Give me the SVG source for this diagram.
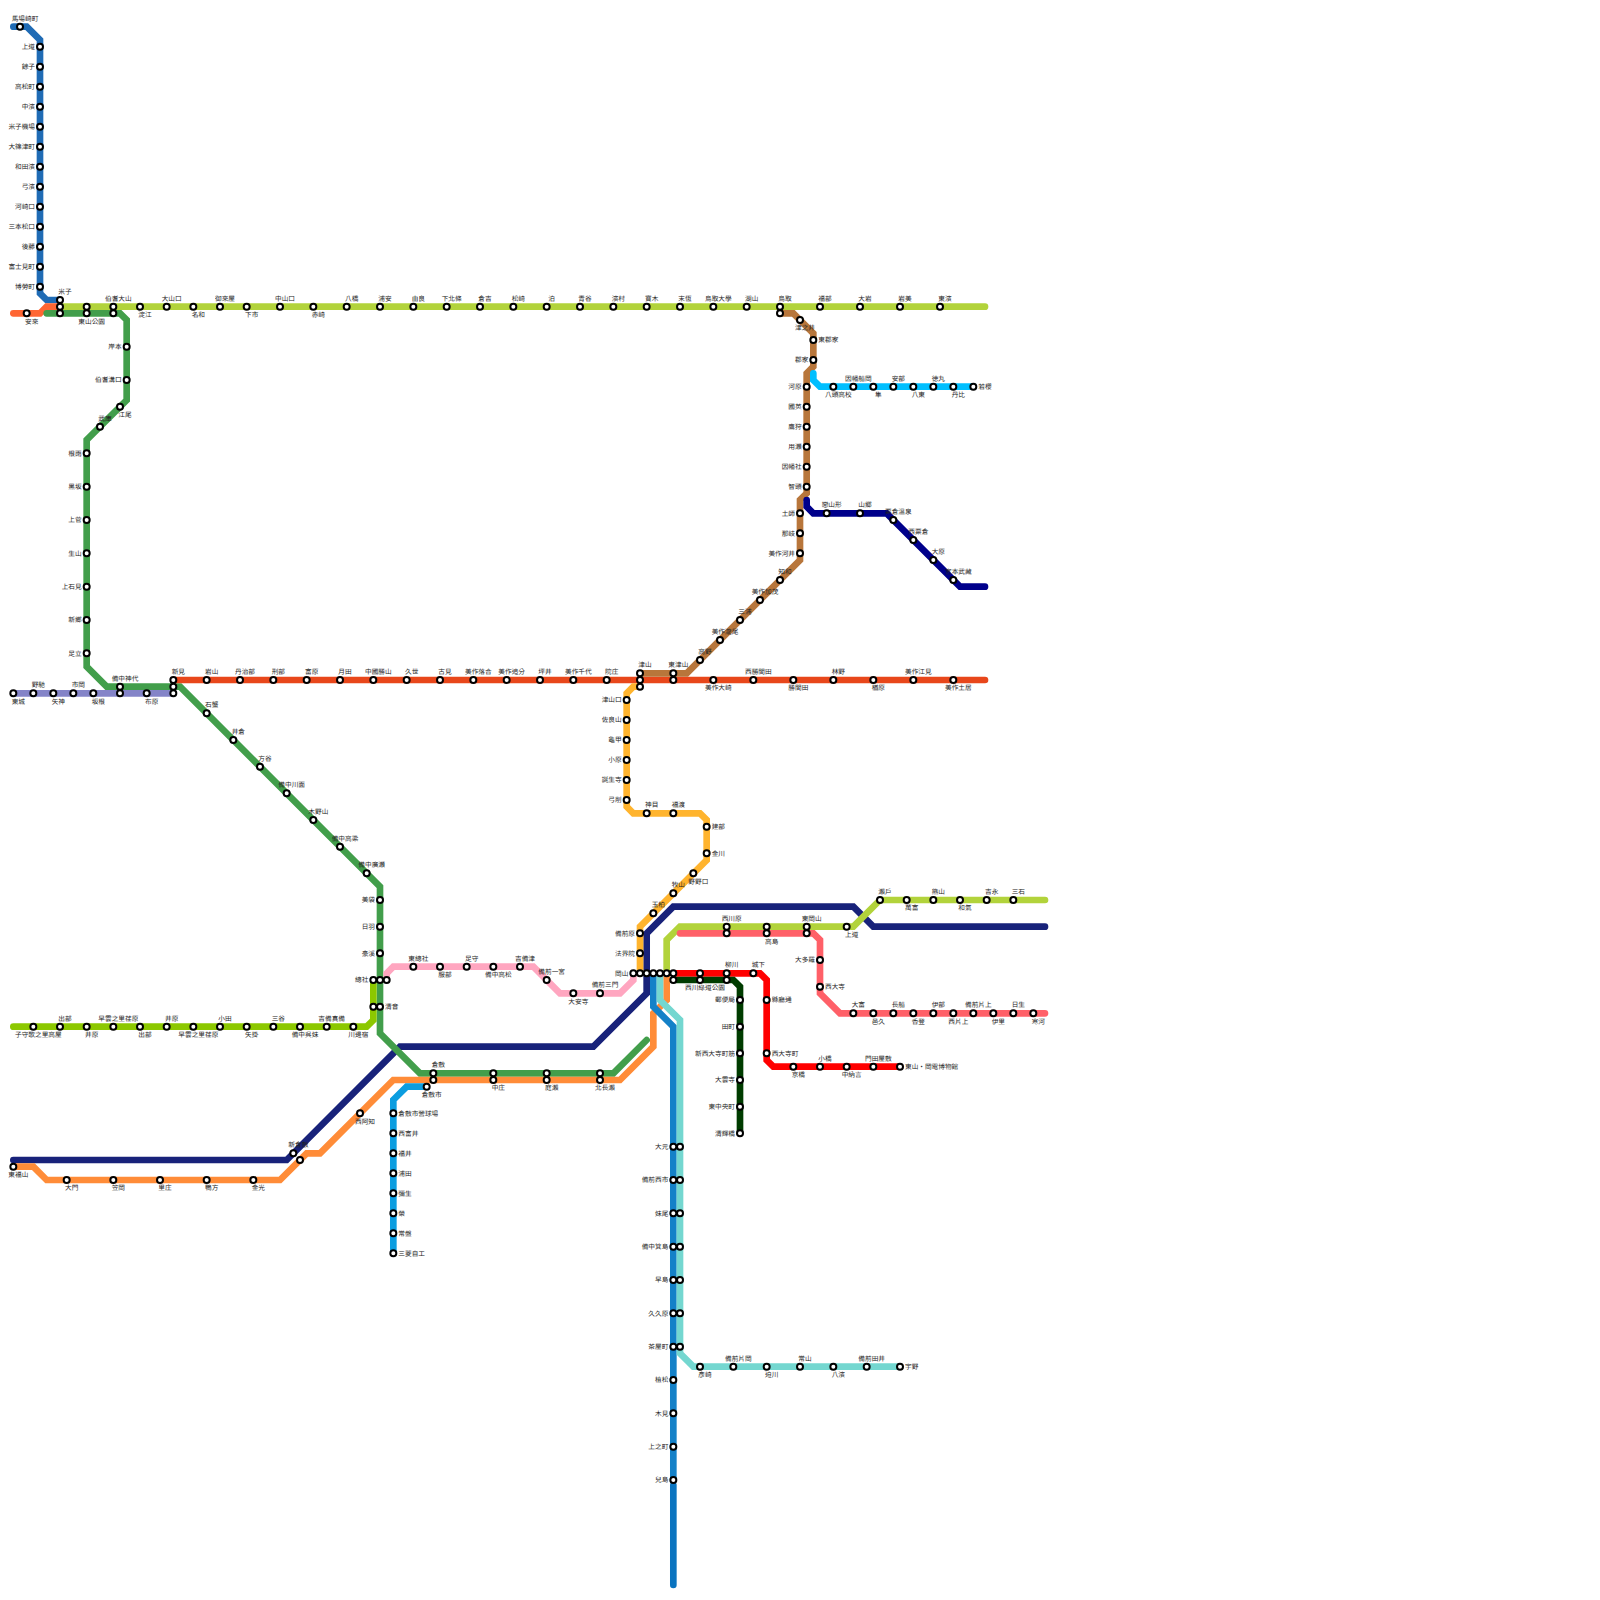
<svg xmlns="http://www.w3.org/2000/svg" width="1600" height="1600" viewBox="0 0 1600 1600">
<style>
.ln{fill:none;stroke-width:6.67;stroke-linecap:round;stroke-linejoin:miter}
circle{fill:#fff;stroke:#000;stroke-width:2}
text{font-family:"Noto Sans CJK TC","Noto Sans CJK JP",sans-serif;font-size:6.67px;fill:#222;text-rendering:geometricPrecision;opacity:.99}
.t,.b{text-anchor:middle}.l{text-anchor:end}.r{text-anchor:start}
</style>
<rect width="1600" height="1600" fill="#fff"/>
<g id="connectors">
<path class="ln" stroke="#18227a" d="M13.33 1160H286.67L400 1046.67H593.33L646.67 993.33V933.33L673.33 906.67H853.33L873.33 926.67H1045"/>
<path class="ln" stroke="#1f6bb5" d="M13.33 26.67H26.67L40 40V293.33L46.67 300H60"/>
<path class="ln" stroke="#ff6633" d="M13.33 313.33H40L46.67 306.67H60"/>
<path class="ln" stroke="#b2d33b" d="M60 306.67H985"/>
<path class="ln" stroke="#8484c8" d="M13.33 693.33H173.33"/>
<path class="ln" stroke="#429e4b" d="M46.67 313.33H120L126.67 320V400L86.67 440V666.67L106.67 686.67H180L380 886.67V1033.33L420 1073.33H613.33L646.67 1040"/>
<path class="ln" stroke="#8cc800" d="M13.33 1026.67H366.67L373.33 1020V980"/>
<path class="ln" stroke="#e8471b" d="M173.33 680H985"/>
<path class="ln" stroke="#b8763b" d="M640 673.33H686.67L800 560V500L806.67 493.33V373.33L813.33 366.67V333.33L793.33 313.33H780"/>
<path class="ln" stroke="#00bfff" d="M813.33 373.33V380L820 386.67H973.33"/>
<path class="ln" stroke="#00008b" d="M806.67 500V506.67L813.33 513.33H886.67L960 586.67H985"/>
<path class="ln" stroke="#ffb42e" d="M640 686.67H633.33L626.67 693.33V806.67L633.33 813.33H700L706.67 820V860L640 926.67V973.33"/>
<path class="ln" stroke="#ff8c38" d="M13.33 1166.67H33.33L46.67 1180H280L306.67 1153.33H320L393.33 1080H620L653.33 1046.67V1013.33L666.67 1000V973.33"/>
<path class="ln" stroke="#0b9de0" d="M426.67 1086.67H406.67L393.33 1100V1253.33"/>
<path class="ln" stroke="#ffa6c0" d="M386.67 980V973.33L393.33 966.67H533.33L560 993.33H620L633.33 980V973.33"/>
<path class="ln" stroke="#1481c8" d="M653.33 973.33V1006.67L673.33 1026.67V1480"/>
<path class="ln" stroke="#0a74c0" d="M673.33 1485V1585"/>
<path class="ln" stroke="#74d7d0" d="M660 973.33V1000L680 1020V1353.33L693.33 1366.67H900"/>
<path class="ln" stroke="#b2d33b" d="M666.67 973.33V940L680 926.67H853.33L880 900H1045"/>
<path class="ln" stroke="#ff6068" d="M680 933.33H813.33L820 940V993.33L840 1013.33H1045"/>
<path class="ln" stroke="#ff0000" d="M673.33 973.33H760L766.67 980V1060L773.33 1066.67H900"/>
<path class="ln" stroke="#003c00" d="M673.33 980H733.33L740 986.67V1133.33"/>
</g>
<g id="nodes">
<g id="n1" transform="translate(20 26.67)"><circle r="3"/><text class="t" x="5" y="-6">馬場崎町</text></g>
<g id="n2" transform="translate(40 46.67)"><circle r="3"/><text class="l" x="-5" y="2.4">上道</text></g>
<g id="n3" transform="translate(40 66.67)"><circle r="3"/><text class="l" x="-5" y="2.4">餘子</text></g>
<g id="n4" transform="translate(40 86.67)"><circle r="3"/><text class="l" x="-5" y="2.4">高松町</text></g>
<g id="n5" transform="translate(40 106.67)"><circle r="3"/><text class="l" x="-5" y="2.4">中濱</text></g>
<g id="n6" transform="translate(40 126.67)"><circle r="3"/><text class="l" x="-5" y="2.4">米子機場</text></g>
<g id="n7" transform="translate(40 146.67)"><circle r="3"/><text class="l" x="-5" y="2.4">大篠津町</text></g>
<g id="n8" transform="translate(40 166.67)"><circle r="3"/><text class="l" x="-5" y="2.4">和田濱</text></g>
<g id="n9" transform="translate(40 186.67)"><circle r="3"/><text class="l" x="-5" y="2.4">弓濱</text></g>
<g id="n10" transform="translate(40 206.67)"><circle r="3"/><text class="l" x="-5" y="2.4">河崎口</text></g>
<g id="n11" transform="translate(40 226.67)"><circle r="3"/><text class="l" x="-5" y="2.4">三本松口</text></g>
<g id="n12" transform="translate(40 246.67)"><circle r="3"/><text class="l" x="-5" y="2.4">後藤</text></g>
<g id="n13" transform="translate(40 266.67)"><circle r="3"/><text class="l" x="-5" y="2.4">富士見町</text></g>
<g id="n14" transform="translate(40 286.67)"><circle r="3"/><text class="l" x="-5" y="2.4">博勞町</text></g>
<g id="n15" transform="translate(60 300)"><circle r="3"/><text class="t" x="5" y="-6">米子</text></g>
<g id="n16" transform="translate(60 306.67)"><circle r="3"/></g>
<g id="n17" transform="translate(60 313.33)"><circle r="3"/></g>
<g id="n18" transform="translate(26.67 313.33)"><circle r="3"/><text class="b" x="5" y="10.4">安來</text></g>
<g id="n19" transform="translate(86.67 306.67)"><circle r="3"/></g>
<g id="n20" transform="translate(86.67 313.33)"><circle r="3"/><text class="b" x="5" y="10.4">東山公園</text></g>
<g id="n21" transform="translate(113.33 306.67)"><circle r="3"/><text class="t" x="5" y="-6">伯耆大山</text></g>
<g id="n22" transform="translate(113.33 313.33)"><circle r="3"/></g>
<g id="n23" transform="translate(140 306.67)"><circle r="3"/><text class="b" x="5" y="10.4">淀江</text></g>
<g id="n24" transform="translate(166.67 306.67)"><circle r="3"/><text class="t" x="5" y="-6">大山口</text></g>
<g id="n25" transform="translate(193.33 306.67)"><circle r="3"/><text class="b" x="5" y="10.4">名和</text></g>
<g id="n26" transform="translate(220 306.67)"><circle r="3"/><text class="t" x="5" y="-6">御來屋</text></g>
<g id="n27" transform="translate(246.67 306.67)"><circle r="3"/><text class="b" x="5" y="10.4">下市</text></g>
<g id="n28" transform="translate(280 306.67)"><circle r="3"/><text class="t" x="5" y="-6">中山口</text></g>
<g id="n29" transform="translate(313.33 306.67)"><circle r="3"/><text class="b" x="5" y="10.4">赤崎</text></g>
<g id="n30" transform="translate(346.67 306.67)"><circle r="3"/><text class="t" x="5" y="-6">八橋</text></g>
<g id="n31" transform="translate(380 306.67)"><circle r="3"/><text class="t" x="5" y="-6">浦安</text></g>
<g id="n32" transform="translate(413.33 306.67)"><circle r="3"/><text class="t" x="5" y="-6">由良</text></g>
<g id="n33" transform="translate(446.67 306.67)"><circle r="3"/><text class="t" x="5" y="-6">下北條</text></g>
<g id="n34" transform="translate(480 306.67)"><circle r="3"/><text class="t" x="5" y="-6">倉吉</text></g>
<g id="n35" transform="translate(513.33 306.67)"><circle r="3"/><text class="t" x="5" y="-6">松崎</text></g>
<g id="n36" transform="translate(546.67 306.67)"><circle r="3"/><text class="t" x="5" y="-6">泊</text></g>
<g id="n37" transform="translate(580 306.67)"><circle r="3"/><text class="t" x="5" y="-6">青谷</text></g>
<g id="n38" transform="translate(613.33 306.67)"><circle r="3"/><text class="t" x="5" y="-6">濱村</text></g>
<g id="n39" transform="translate(646.67 306.67)"><circle r="3"/><text class="t" x="5" y="-6">寶木</text></g>
<g id="n40" transform="translate(680 306.67)"><circle r="3"/><text class="t" x="5" y="-6">末恆</text></g>
<g id="n41" transform="translate(713.33 306.67)"><circle r="3"/><text class="t" x="5" y="-6">鳥取大學</text></g>
<g id="n42" transform="translate(746.67 306.67)"><circle r="3"/><text class="t" x="5" y="-6">湖山</text></g>
<g id="n43" transform="translate(780 306.67)"><circle r="3"/><text class="t" x="5" y="-6">鳥取</text></g>
<g id="n44" transform="translate(780 313.33)"><circle r="3"/></g>
<g id="n45" transform="translate(820 306.67)"><circle r="3"/><text class="t" x="5" y="-6">福部</text></g>
<g id="n46" transform="translate(860 306.67)"><circle r="3"/><text class="t" x="5" y="-6">大岩</text></g>
<g id="n47" transform="translate(900 306.67)"><circle r="3"/><text class="t" x="5" y="-6">岩美</text></g>
<g id="n48" transform="translate(940 306.67)"><circle r="3"/><text class="t" x="5" y="-6">東濱</text></g>
<g id="n49" transform="translate(126.67 346.67)"><circle r="3"/><text class="l" x="-5" y="2.4">岸本</text></g>
<g id="n50" transform="translate(126.67 380)"><circle r="3"/><text class="l" x="-5" y="2.4">伯耆溝口</text></g>
<g id="n51" transform="translate(120 406.67)"><circle r="3"/><text class="b" x="5" y="10.4">江尾</text></g>
<g id="n52" transform="translate(100 426.67)"><circle r="3"/><text class="t" x="5" y="-6">武庫</text></g>
<g id="n53" transform="translate(86.67 453.33)"><circle r="3"/><text class="l" x="-5" y="2.4">根雨</text></g>
<g id="n54" transform="translate(86.67 486.67)"><circle r="3"/><text class="l" x="-5" y="2.4">黑坂</text></g>
<g id="n55" transform="translate(86.67 520)"><circle r="3"/><text class="l" x="-5" y="2.4">上菅</text></g>
<g id="n56" transform="translate(86.67 553.33)"><circle r="3"/><text class="l" x="-5" y="2.4">生山</text></g>
<g id="n57" transform="translate(86.67 586.67)"><circle r="3"/><text class="l" x="-5" y="2.4">上石見</text></g>
<g id="n58" transform="translate(86.67 620)"><circle r="3"/><text class="l" x="-5" y="2.4">新鄉</text></g>
<g id="n59" transform="translate(86.67 653.33)"><circle r="3"/><text class="l" x="-5" y="2.4">足立</text></g>
<g id="n60" transform="translate(120 686.67)"><circle r="3"/><text class="t" x="5" y="-6">備中神代</text></g>
<g id="n61" transform="translate(120 693.33)"><circle r="3"/></g>
<g id="n62" transform="translate(173.33 680)"><circle r="3"/><text class="t" x="5" y="-6">新見</text></g>
<g id="n63" transform="translate(173.33 686.67)"><circle r="3"/></g>
<g id="n64" transform="translate(173.33 693.33)"><circle r="3"/></g>
<g id="n65" transform="translate(206.67 713.33)"><circle r="3"/><text class="t" x="5" y="-6">石蟹</text></g>
<g id="n66" transform="translate(233.33 740)"><circle r="3"/><text class="t" x="5" y="-6">井倉</text></g>
<g id="n67" transform="translate(260 766.67)"><circle r="3"/><text class="t" x="5" y="-6">方谷</text></g>
<g id="n68" transform="translate(286.67 793.33)"><circle r="3"/><text class="t" x="5" y="-6">備中川面</text></g>
<g id="n69" transform="translate(313.33 820)"><circle r="3"/><text class="t" x="5" y="-6">木野山</text></g>
<g id="n70" transform="translate(340 846.67)"><circle r="3"/><text class="t" x="5" y="-6">備中高梁</text></g>
<g id="n71" transform="translate(366.67 873.33)"><circle r="3"/><text class="t" x="5" y="-6">備中廣瀬</text></g>
<g id="n72" transform="translate(380 900)"><circle r="3"/><text class="l" x="-5" y="2.4">美袋</text></g>
<g id="n73" transform="translate(380 926.67)"><circle r="3"/><text class="l" x="-5" y="2.4">日羽</text></g>
<g id="n74" transform="translate(380 953.33)"><circle r="3"/><text class="l" x="-5" y="2.4">豪溪</text></g>
<g id="n75" transform="translate(373.33 980)"><circle r="3"/><text class="l" x="-5" y="2.4">總社</text></g>
<g id="n76" transform="translate(380 980)"><circle r="3"/></g>
<g id="n77" transform="translate(386.67 980)"><circle r="3"/></g>
<g id="n78" transform="translate(373.33 1006.67)"><circle r="3"/></g>
<g id="n79" transform="translate(380 1006.67)"><circle r="3"/><text class="r" x="5" y="2.4">清音</text></g>
<g id="n80" transform="translate(13.33 693.33)"><circle r="3"/><text class="b" x="5" y="10.4">東城</text></g>
<g id="n81" transform="translate(33.33 693.33)"><circle r="3"/><text class="t" x="5" y="-6">野馳</text></g>
<g id="n82" transform="translate(53.33 693.33)"><circle r="3"/><text class="b" x="5" y="10.4">矢神</text></g>
<g id="n83" transform="translate(73.33 693.33)"><circle r="3"/><text class="t" x="5" y="-6">市岡</text></g>
<g id="n84" transform="translate(93.33 693.33)"><circle r="3"/><text class="b" x="5" y="10.4">坂根</text></g>
<g id="n85" transform="translate(146.67 693.33)"><circle r="3"/><text class="b" x="5" y="10.4">布原</text></g>
<g id="n86" transform="translate(206.67 680)"><circle r="3"/><text class="t" x="5" y="-6">岩山</text></g>
<g id="n87" transform="translate(240 680)"><circle r="3"/><text class="t" x="5" y="-6">丹治部</text></g>
<g id="n88" transform="translate(273.33 680)"><circle r="3"/><text class="t" x="5" y="-6">刑部</text></g>
<g id="n89" transform="translate(306.67 680)"><circle r="3"/><text class="t" x="5" y="-6">富原</text></g>
<g id="n90" transform="translate(340 680)"><circle r="3"/><text class="t" x="5" y="-6">月田</text></g>
<g id="n91" transform="translate(373.33 680)"><circle r="3"/><text class="t" x="5" y="-6">中國勝山</text></g>
<g id="n92" transform="translate(406.67 680)"><circle r="3"/><text class="t" x="5" y="-6">久世</text></g>
<g id="n93" transform="translate(440 680)"><circle r="3"/><text class="t" x="5" y="-6">古見</text></g>
<g id="n94" transform="translate(473.33 680)"><circle r="3"/><text class="t" x="5" y="-6">美作落合</text></g>
<g id="n95" transform="translate(506.67 680)"><circle r="3"/><text class="t" x="5" y="-6">美作追分</text></g>
<g id="n96" transform="translate(540 680)"><circle r="3"/><text class="t" x="5" y="-6">坪井</text></g>
<g id="n97" transform="translate(573.33 680)"><circle r="3"/><text class="t" x="5" y="-6">美作千代</text></g>
<g id="n98" transform="translate(606.67 680)"><circle r="3"/><text class="t" x="5" y="-6">院庄</text></g>
<g id="n99" transform="translate(640 673.33)"><circle r="3"/><text class="t" x="5" y="-6">津山</text></g>
<g id="n100" transform="translate(640 680)"><circle r="3"/></g>
<g id="n101" transform="translate(640 686.67)"><circle r="3"/></g>
<g id="n102" transform="translate(673.33 673.33)"><circle r="3"/><text class="t" x="5" y="-6">東津山</text></g>
<g id="n103" transform="translate(673.33 680)"><circle r="3"/></g>
<g id="n104" transform="translate(713.33 680)"><circle r="3"/><text class="b" x="5" y="10.4">美作大崎</text></g>
<g id="n105" transform="translate(753.33 680)"><circle r="3"/><text class="t" x="5" y="-6">西勝間田</text></g>
<g id="n106" transform="translate(793.33 680)"><circle r="3"/><text class="b" x="5" y="10.4">勝間田</text></g>
<g id="n107" transform="translate(833.33 680)"><circle r="3"/><text class="t" x="5" y="-6">林野</text></g>
<g id="n108" transform="translate(873.33 680)"><circle r="3"/><text class="b" x="5" y="10.4">楢原</text></g>
<g id="n109" transform="translate(913.33 680)"><circle r="3"/><text class="t" x="5" y="-6">美作江見</text></g>
<g id="n110" transform="translate(953.33 680)"><circle r="3"/><text class="b" x="5" y="10.4">美作土居</text></g>
<g id="n111" transform="translate(700 660)"><circle r="3"/><text class="t" x="5" y="-6">高野</text></g>
<g id="n112" transform="translate(720 640)"><circle r="3"/><text class="t" x="5" y="-6">美作瀧尾</text></g>
<g id="n113" transform="translate(740 620)"><circle r="3"/><text class="t" x="5" y="-6">三浦</text></g>
<g id="n114" transform="translate(760 600)"><circle r="3"/><text class="t" x="5" y="-6">美作加茂</text></g>
<g id="n115" transform="translate(780 580)"><circle r="3"/><text class="t" x="5" y="-6">知和</text></g>
<g id="n116" transform="translate(800 553.33)"><circle r="3"/><text class="l" x="-5" y="2.4">美作河井</text></g>
<g id="n117" transform="translate(800 533.33)"><circle r="3"/><text class="l" x="-5" y="2.4">那岐</text></g>
<g id="n118" transform="translate(800 513.33)"><circle r="3"/><text class="l" x="-5" y="2.4">土師</text></g>
<g id="n119" transform="translate(806.67 486.67)"><circle r="3"/><text class="l" x="-5" y="2.4">智頭</text></g>
<g id="n120" transform="translate(806.67 466.67)"><circle r="3"/><text class="l" x="-5" y="2.4">因幡社</text></g>
<g id="n121" transform="translate(806.67 446.67)"><circle r="3"/><text class="l" x="-5" y="2.4">用瀬</text></g>
<g id="n122" transform="translate(806.67 426.67)"><circle r="3"/><text class="l" x="-5" y="2.4">鷹狩</text></g>
<g id="n123" transform="translate(806.67 406.67)"><circle r="3"/><text class="l" x="-5" y="2.4">國英</text></g>
<g id="n124" transform="translate(806.67 386.67)"><circle r="3"/><text class="l" x="-5" y="2.4">河原</text></g>
<g id="n125" transform="translate(813.33 360)"><circle r="3"/><text class="l" x="-5" y="2.4">郡家</text></g>
<g id="n126" transform="translate(813.33 340)"><circle r="3"/><text class="r" x="5" y="2.4">東郡家</text></g>
<g id="n127" transform="translate(800 320)"><circle r="3"/><text class="b" x="5" y="10.4">津之井</text></g>
<g id="n128" transform="translate(833.33 386.67)"><circle r="3"/><text class="b" x="5" y="10.4">八頭高校</text></g>
<g id="n129" transform="translate(853.33 386.67)"><circle r="3"/><text class="t" x="5" y="-6">因幡船岡</text></g>
<g id="n130" transform="translate(873.33 386.67)"><circle r="3"/><text class="b" x="5" y="10.4">隼</text></g>
<g id="n131" transform="translate(893.33 386.67)"><circle r="3"/><text class="t" x="5" y="-6">安部</text></g>
<g id="n132" transform="translate(913.33 386.67)"><circle r="3"/><text class="b" x="5" y="10.4">八東</text></g>
<g id="n133" transform="translate(933.33 386.67)"><circle r="3"/><text class="t" x="5" y="-6">徳丸</text></g>
<g id="n134" transform="translate(953.33 386.67)"><circle r="3"/><text class="b" x="5" y="10.4">丹比</text></g>
<g id="n135" transform="translate(973.33 386.67)"><circle r="3"/><text class="r" x="5" y="2.4">若櫻</text></g>
<g id="n136" transform="translate(826.67 513.33)"><circle r="3"/><text class="t" x="5" y="-6">戀山形</text></g>
<g id="n137" transform="translate(860 513.33)"><circle r="3"/><text class="t" x="5" y="-6">山郷</text></g>
<g id="n138" transform="translate(893.33 520)"><circle r="3"/><text class="t" x="5" y="-6">粟倉溫泉</text></g>
<g id="n139" transform="translate(913.33 540)"><circle r="3"/><text class="t" x="5" y="-6">西粟倉</text></g>
<g id="n140" transform="translate(933.33 560)"><circle r="3"/><text class="t" x="5" y="-6">大原</text></g>
<g id="n141" transform="translate(953.33 580)"><circle r="3"/><text class="t" x="5" y="-6">宮本武藏</text></g>
<g id="n142" transform="translate(626.67 700)"><circle r="3"/><text class="l" x="-5" y="2.4">津山口</text></g>
<g id="n143" transform="translate(626.67 720)"><circle r="3"/><text class="l" x="-5" y="2.4">佐良山</text></g>
<g id="n144" transform="translate(626.67 740)"><circle r="3"/><text class="l" x="-5" y="2.4">龜甲</text></g>
<g id="n145" transform="translate(626.67 760)"><circle r="3"/><text class="l" x="-5" y="2.4">小原</text></g>
<g id="n146" transform="translate(626.67 780)"><circle r="3"/><text class="l" x="-5" y="2.4">誕生寺</text></g>
<g id="n147" transform="translate(626.67 800)"><circle r="3"/><text class="l" x="-5" y="2.4">弓削</text></g>
<g id="n148" transform="translate(646.67 813.33)"><circle r="3"/><text class="t" x="5" y="-6">神目</text></g>
<g id="n149" transform="translate(673.33 813.33)"><circle r="3"/><text class="t" x="5" y="-6">福渡</text></g>
<g id="n150" transform="translate(706.67 826.67)"><circle r="3"/><text class="r" x="5" y="2.4">建部</text></g>
<g id="n151" transform="translate(706.67 853.33)"><circle r="3"/><text class="r" x="5" y="2.4">金川</text></g>
<g id="n152" transform="translate(693.33 873.33)"><circle r="3"/><text class="b" x="5" y="10.4">野野口</text></g>
<g id="n153" transform="translate(673.33 893.33)"><circle r="3"/><text class="t" x="5" y="-6">牧山</text></g>
<g id="n154" transform="translate(653.33 913.33)"><circle r="3"/><text class="t" x="5" y="-6">玉柏</text></g>
<g id="n155" transform="translate(640 933.33)"><circle r="3"/><text class="l" x="-5" y="2.4">備前原</text></g>
<g id="n156" transform="translate(640 953.33)"><circle r="3"/><text class="l" x="-5" y="2.4">法界院</text></g>
<g id="n157" transform="translate(633.33 973.33)"><circle r="3"/><text class="l" x="-5" y="2.4">岡山</text></g>
<g id="n158" transform="translate(640 973.33)"><circle r="3"/></g>
<g id="n159" transform="translate(646.67 973.33)"><circle r="3"/></g>
<g id="n160" transform="translate(653.33 973.33)"><circle r="3"/></g>
<g id="n161" transform="translate(660 973.33)"><circle r="3"/></g>
<g id="n162" transform="translate(666.67 973.33)"><circle r="3"/></g>
<g id="n163" transform="translate(673.33 973.33)"><circle r="3"/></g>
<g id="n164" transform="translate(673.33 980)"><circle r="3"/></g>
<g id="n165" transform="translate(33.33 1026.67)"><circle r="3"/><text class="b" x="5" y="10.4">子守歌之里高屋</text></g>
<g id="n166" transform="translate(60 1026.67)"><circle r="3"/><text class="t" x="5" y="-6">出部</text></g>
<g id="n167" transform="translate(86.67 1026.67)"><circle r="3"/><text class="b" x="5" y="10.4">井原</text></g>
<g id="n168" transform="translate(113.33 1026.67)"><circle r="3"/><text class="t" x="5" y="-6">早雲之里荏原</text></g>
<g id="n169" transform="translate(140 1026.67)"><circle r="3"/><text class="b" x="5" y="10.4">出部</text></g>
<g id="n170" transform="translate(166.67 1026.67)"><circle r="3"/><text class="t" x="5" y="-6">井原</text></g>
<g id="n171" transform="translate(193.33 1026.67)"><circle r="3"/><text class="b" x="5" y="10.4">早雲之里荏原</text></g>
<g id="n172" transform="translate(220 1026.67)"><circle r="3"/><text class="t" x="5" y="-6">小田</text></g>
<g id="n173" transform="translate(246.67 1026.67)"><circle r="3"/><text class="b" x="5" y="10.4">矢掛</text></g>
<g id="n174" transform="translate(273.33 1026.67)"><circle r="3"/><text class="t" x="5" y="-6">三谷</text></g>
<g id="n175" transform="translate(300 1026.67)"><circle r="3"/><text class="b" x="5" y="10.4">備中呉妹</text></g>
<g id="n176" transform="translate(326.67 1026.67)"><circle r="3"/><text class="t" x="5" y="-6">吉備真備</text></g>
<g id="n177" transform="translate(353.33 1026.67)"><circle r="3"/><text class="b" x="5" y="10.4">川邊宿</text></g>
<g id="n178" transform="translate(13.33 1166.67)"><circle r="3"/><text class="b" x="5" y="10.4">東福山</text></g>
<g id="n179" transform="translate(66.67 1180)"><circle r="3"/><text class="b" x="5" y="10.4">大門</text></g>
<g id="n180" transform="translate(113.33 1180)"><circle r="3"/><text class="b" x="5" y="10.4">笠岡</text></g>
<g id="n181" transform="translate(160 1180)"><circle r="3"/><text class="b" x="5" y="10.4">里庄</text></g>
<g id="n182" transform="translate(206.67 1180)"><circle r="3"/><text class="b" x="5" y="10.4">鴨方</text></g>
<g id="n183" transform="translate(253.33 1180)"><circle r="3"/><text class="b" x="5" y="10.4">金光</text></g>
<g id="n184" transform="translate(293.33 1153.33)"><circle r="3"/><text class="t" x="5" y="-6">新倉敷</text></g>
<g id="n185" transform="translate(300 1160)"><circle r="3"/></g>
<g id="n186" transform="translate(360 1113.33)"><circle r="3"/><text class="b" x="5" y="10.4">西阿知</text></g>
<g id="n187" transform="translate(433.33 1073.33)"><circle r="3"/><text class="t" x="5" y="-6">倉敷</text></g>
<g id="n188" transform="translate(433.33 1080)"><circle r="3"/></g>
<g id="n189" transform="translate(426.67 1086.67)"><circle r="3"/><text class="b" x="5" y="10.4">倉敷市</text></g>
<g id="n190" transform="translate(493.33 1073.33)"><circle r="3"/></g>
<g id="n191" transform="translate(493.33 1080)"><circle r="3"/><text class="b" x="5" y="10.4">中庄</text></g>
<g id="n192" transform="translate(546.67 1073.33)"><circle r="3"/></g>
<g id="n193" transform="translate(546.67 1080)"><circle r="3"/><text class="b" x="5" y="10.4">庭瀨</text></g>
<g id="n194" transform="translate(600 1073.33)"><circle r="3"/></g>
<g id="n195" transform="translate(600 1080)"><circle r="3"/><text class="b" x="5" y="10.4">北長瀨</text></g>
<g id="n196" transform="translate(393.33 1113.33)"><circle r="3"/><text class="r" x="5" y="2.4">倉敷市營球場</text></g>
<g id="n197" transform="translate(393.33 1133.33)"><circle r="3"/><text class="r" x="5" y="2.4">西富井</text></g>
<g id="n198" transform="translate(393.33 1153.33)"><circle r="3"/><text class="r" x="5" y="2.4">福井</text></g>
<g id="n199" transform="translate(393.33 1173.33)"><circle r="3"/><text class="r" x="5" y="2.4">浦田</text></g>
<g id="n200" transform="translate(393.33 1193.33)"><circle r="3"/><text class="r" x="5" y="2.4">彌生</text></g>
<g id="n201" transform="translate(393.33 1213.33)"><circle r="3"/><text class="r" x="5" y="2.4">榮</text></g>
<g id="n202" transform="translate(393.33 1233.33)"><circle r="3"/><text class="r" x="5" y="2.4">常盤</text></g>
<g id="n203" transform="translate(393.33 1253.33)"><circle r="3"/><text class="r" x="5" y="2.4">三菱自工</text></g>
<g id="n204" transform="translate(413.33 966.67)"><circle r="3"/><text class="t" x="5" y="-6">東總社</text></g>
<g id="n205" transform="translate(440 966.67)"><circle r="3"/><text class="b" x="5" y="10.4">服部</text></g>
<g id="n206" transform="translate(466.67 966.67)"><circle r="3"/><text class="t" x="5" y="-6">足守</text></g>
<g id="n207" transform="translate(493.33 966.67)"><circle r="3"/><text class="b" x="5" y="10.4">備中高松</text></g>
<g id="n208" transform="translate(520 966.67)"><circle r="3"/><text class="t" x="5" y="-6">吉備津</text></g>
<g id="n209" transform="translate(546.67 980)"><circle r="3"/><text class="t" x="5" y="-6">備前一宮</text></g>
<g id="n210" transform="translate(573.33 993.33)"><circle r="3"/><text class="b" x="5" y="10.4">大安寺</text></g>
<g id="n211" transform="translate(600 993.33)"><circle r="3"/><text class="t" x="5" y="-6">備前三門</text></g>
<g id="n212" transform="translate(673.33 1146.67)"><circle r="3"/><text class="l" x="-5" y="2.4">大元</text></g>
<g id="n213" transform="translate(680 1146.67)"><circle r="3"/></g>
<g id="n214" transform="translate(673.33 1180)"><circle r="3"/><text class="l" x="-5" y="2.4">備前西市</text></g>
<g id="n215" transform="translate(680 1180)"><circle r="3"/></g>
<g id="n216" transform="translate(673.33 1213.33)"><circle r="3"/><text class="l" x="-5" y="2.4">妹尾</text></g>
<g id="n217" transform="translate(680 1213.33)"><circle r="3"/></g>
<g id="n218" transform="translate(673.33 1246.67)"><circle r="3"/><text class="l" x="-5" y="2.4">備中箕島</text></g>
<g id="n219" transform="translate(680 1246.67)"><circle r="3"/></g>
<g id="n220" transform="translate(673.33 1280)"><circle r="3"/><text class="l" x="-5" y="2.4">早島</text></g>
<g id="n221" transform="translate(680 1280)"><circle r="3"/></g>
<g id="n222" transform="translate(673.33 1313.33)"><circle r="3"/><text class="l" x="-5" y="2.4">久久原</text></g>
<g id="n223" transform="translate(680 1313.33)"><circle r="3"/></g>
<g id="n224" transform="translate(673.33 1346.67)"><circle r="3"/><text class="l" x="-5" y="2.4">茶屋町</text></g>
<g id="n225" transform="translate(680 1346.67)"><circle r="3"/></g>
<g id="n226" transform="translate(673.33 1380)"><circle r="3"/><text class="l" x="-5" y="2.4">植松</text></g>
<g id="n227" transform="translate(673.33 1413.33)"><circle r="3"/><text class="l" x="-5" y="2.4">木見</text></g>
<g id="n228" transform="translate(673.33 1446.67)"><circle r="3"/><text class="l" x="-5" y="2.4">上之町</text></g>
<g id="n229" transform="translate(673.33 1480)"><circle r="3"/><text class="l" x="-5" y="2.4">兒島</text></g>
<g id="n230" transform="translate(700 1366.67)"><circle r="3"/><text class="b" x="5" y="10.4">彥崎</text></g>
<g id="n231" transform="translate(733.33 1366.67)"><circle r="3"/><text class="t" x="5" y="-6">備前片岡</text></g>
<g id="n232" transform="translate(766.67 1366.67)"><circle r="3"/><text class="b" x="5" y="10.4">迫川</text></g>
<g id="n233" transform="translate(800 1366.67)"><circle r="3"/><text class="t" x="5" y="-6">常山</text></g>
<g id="n234" transform="translate(833.33 1366.67)"><circle r="3"/><text class="b" x="5" y="10.4">八濱</text></g>
<g id="n235" transform="translate(866.67 1366.67)"><circle r="3"/><text class="t" x="5" y="-6">備前田井</text></g>
<g id="n236" transform="translate(900 1366.67)"><circle r="3"/><text class="r" x="5" y="2.4">宇野</text></g>
<g id="n237" transform="translate(726.67 926.67)"><circle r="3"/><text class="t" x="5" y="-6">西川原</text></g>
<g id="n238" transform="translate(726.67 933.33)"><circle r="3"/></g>
<g id="n239" transform="translate(766.67 926.67)"><circle r="3"/></g>
<g id="n240" transform="translate(766.67 933.33)"><circle r="3"/><text class="b" x="5" y="10.4">高島</text></g>
<g id="n241" transform="translate(806.67 926.67)"><circle r="3"/><text class="t" x="5" y="-6">東岡山</text></g>
<g id="n242" transform="translate(806.67 933.33)"><circle r="3"/></g>
<g id="n243" transform="translate(846.67 926.67)"><circle r="3"/><text class="b" x="5" y="10.4">上道</text></g>
<g id="n244" transform="translate(880 900)"><circle r="3"/><text class="t" x="5" y="-6">瀨戶</text></g>
<g id="n245" transform="translate(906.67 900)"><circle r="3"/><text class="b" x="5" y="10.4">萬富</text></g>
<g id="n246" transform="translate(933.33 900)"><circle r="3"/><text class="t" x="5" y="-6">熊山</text></g>
<g id="n247" transform="translate(960 900)"><circle r="3"/><text class="b" x="5" y="10.4">和氣</text></g>
<g id="n248" transform="translate(986.67 900)"><circle r="3"/><text class="t" x="5" y="-6">吉永</text></g>
<g id="n249" transform="translate(1013.33 900)"><circle r="3"/><text class="t" x="5" y="-6">三石</text></g>
<g id="n250" transform="translate(820 960)"><circle r="3"/><text class="l" x="-5" y="2.4">大多羅</text></g>
<g id="n251" transform="translate(820 986.67)"><circle r="3"/><text class="r" x="5" y="2.4">西大寺</text></g>
<g id="n252" transform="translate(853.33 1013.33)"><circle r="3"/><text class="t" x="5" y="-6">大富</text></g>
<g id="n253" transform="translate(873.33 1013.33)"><circle r="3"/><text class="b" x="5" y="10.4">邑久</text></g>
<g id="n254" transform="translate(893.33 1013.33)"><circle r="3"/><text class="t" x="5" y="-6">長船</text></g>
<g id="n255" transform="translate(913.33 1013.33)"><circle r="3"/><text class="b" x="5" y="10.4">香登</text></g>
<g id="n256" transform="translate(933.33 1013.33)"><circle r="3"/><text class="t" x="5" y="-6">伊部</text></g>
<g id="n257" transform="translate(953.33 1013.33)"><circle r="3"/><text class="b" x="5" y="10.4">西片上</text></g>
<g id="n258" transform="translate(973.33 1013.33)"><circle r="3"/><text class="t" x="5" y="-6">備前片上</text></g>
<g id="n259" transform="translate(993.33 1013.33)"><circle r="3"/><text class="b" x="5" y="10.4">伊里</text></g>
<g id="n260" transform="translate(1013.33 1013.33)"><circle r="3"/><text class="t" x="5" y="-6">日生</text></g>
<g id="n261" transform="translate(1033.33 1013.33)"><circle r="3"/><text class="b" x="5" y="10.4">寒河</text></g>
<g id="n262" transform="translate(700 973.33)"><circle r="3"/></g>
<g id="n263" transform="translate(700 980)"><circle r="3"/><text class="b" x="5" y="10.4">西川綠道公園</text></g>
<g id="n264" transform="translate(726.67 973.33)"><circle r="3"/><text class="t" x="5" y="-6">柳川</text></g>
<g id="n265" transform="translate(726.67 980)"><circle r="3"/></g>
<g id="n266" transform="translate(753.33 973.33)"><circle r="3"/><text class="t" x="5" y="-6">城下</text></g>
<g id="n267" transform="translate(766.67 1000)"><circle r="3"/><text class="r" x="5" y="2.4">縣廳通</text></g>
<g id="n268" transform="translate(766.67 1053.33)"><circle r="3"/><text class="r" x="5" y="2.4">西大寺町</text></g>
<g id="n269" transform="translate(793.33 1066.67)"><circle r="3"/><text class="b" x="5" y="10.4">京橋</text></g>
<g id="n270" transform="translate(820 1066.67)"><circle r="3"/><text class="t" x="5" y="-6">小橋</text></g>
<g id="n271" transform="translate(846.67 1066.67)"><circle r="3"/><text class="b" x="5" y="10.4">中納言</text></g>
<g id="n272" transform="translate(873.33 1066.67)"><circle r="3"/><text class="t" x="5" y="-6">門田屋敷</text></g>
<g id="n273" transform="translate(900 1066.67)"><circle r="3"/><text class="r" x="5" y="2.4">東山・岡電博物館</text></g>
<g id="n274" transform="translate(740 1000)"><circle r="3"/><text class="l" x="-5" y="2.4">郵便局</text></g>
<g id="n275" transform="translate(740 1026.67)"><circle r="3"/><text class="l" x="-5" y="2.4">田町</text></g>
<g id="n276" transform="translate(740 1053.33)"><circle r="3"/><text class="l" x="-5" y="2.4">新西大寺町筋</text></g>
<g id="n277" transform="translate(740 1080)"><circle r="3"/><text class="l" x="-5" y="2.4">大雲寺</text></g>
<g id="n278" transform="translate(740 1106.67)"><circle r="3"/><text class="l" x="-5" y="2.4">東中央町</text></g>
<g id="n279" transform="translate(740 1133.33)"><circle r="3"/><text class="l" x="-5" y="2.4">清輝橋</text></g>
</g>
</svg>
